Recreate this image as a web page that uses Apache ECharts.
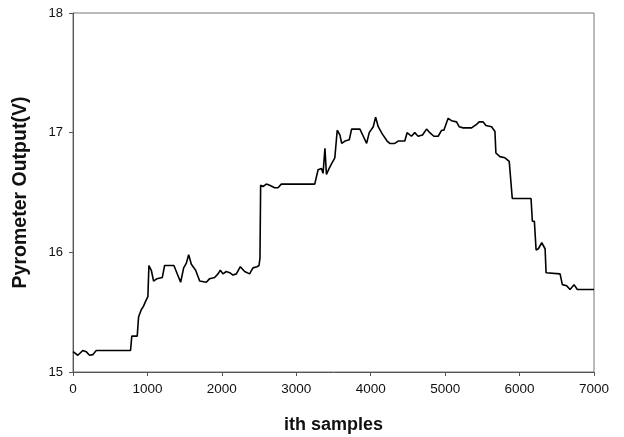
<!DOCTYPE html>
<html>
<head>
<meta charset="utf-8">
<script src="https://cdn.jsdelivr.net/npm/echarts@6/dist/echarts.min.js"></script>
<style>html,body{margin:0;padding:0;background:#fff}#c{width:624px;height:437px}</style>
</head>
<body>
<div id="c"></div>
<script>
const sampleIdx = [0, 65, 132, 177, 222, 266, 312, 773, 790, 863, 881, 917, 948, 975, 1006, 1020, 1052, 1083, 1128, 1200, 1231, 1356, 1388, 1446, 1487, 1523, 1554, 1590, 1648, 1702, 1791, 1836, 1903, 1948, 1980, 2015, 2060, 2105, 2150, 2195, 2248, 2306, 2373, 2418, 2472, 2499, 2512, 2521, 2553, 2598, 2642, 2709, 2754, 2799, 3248, 3270, 3293, 3338, 3360, 3385, 3405, 3440, 3473, 3518, 3550, 3587, 3610, 3654, 3712, 3743, 3855, 3900, 3945, 3980, 4034, 4066, 4101, 4155, 4220, 4256, 4323, 4368, 4458, 4489, 4547, 4592, 4637, 4696, 4750, 4794, 4848, 4906, 4952, 4983, 5040, 5085, 5153, 5188, 5242, 5355, 5422, 5457, 5511, 5548, 5624, 5669, 5682, 5736, 5803, 5861, 5884, 5902, 6154, 6172, 6199, 6222, 6253, 6298, 6343, 6356, 6544, 6575, 6634, 6678, 6732, 6776, 6835, 7000];
const output = [15.17, 15.14, 15.18, 15.17, 15.14, 15.145, 15.18, 15.18, 15.30, 15.30, 15.46, 15.52, 15.55, 15.59, 15.63, 15.89, 15.85, 15.76, 15.78, 15.79, 15.89, 15.89, 15.84, 15.75, 15.87, 15.91, 15.98, 15.90, 15.85, 15.76, 15.75, 15.78, 15.79, 15.82, 15.85, 15.82, 15.84, 15.83, 15.81, 15.82, 15.88, 15.84, 15.82, 15.87, 15.88, 15.89, 15.95, 16.56, 16.55, 16.57, 16.56, 16.54, 16.54, 16.57, 16.57, 16.56, 16.69, 16.70, 16.66, 16.87, 16.65, 16.70, 16.74, 16.79, 17.02, 16.98, 16.91, 16.93, 16.94, 17.03, 17.03, 16.97, 16.91, 17.00, 17.05, 17.13, 17.05, 16.99, 16.93, 16.91, 16.91, 16.93, 16.93, 17.00, 16.97, 17.00, 16.97, 16.98, 17.03, 17.00, 16.97, 16.97, 17.02, 17.02, 17.12, 17.10, 17.09, 17.05, 17.04, 17.04, 17.07, 17.09, 17.09, 17.06, 17.05, 17.01, 16.83, 16.80, 16.79, 16.76, 16.76, 16.45, 16.45, 16.26, 16.26, 16.02, 16.03, 16.08, 16.03, 15.83, 15.82, 15.73, 15.72, 15.69, 15.73, 15.69, 15.69, 15.69];
const xTitle = 'ith samples';
const yTitle = 'Pyrometer Output(V)';

const chart = echarts.init(document.getElementById('c'), null, {renderer: 'canvas'});
const font = '"Liberation Sans", Arial, sans-serif';
chart.setOption({
  animation: false,
  backgroundColor: '#fff',
  grid: {left: 73, right: 30, top: 13, bottom: 65, outerBoundsMode: 'none', containLabel: false, show: true, borderColor: '#777', borderWidth: 1},
  xAxis: {
    type: 'value', min: 0, max: 7000, interval: 1000,
    name: xTitle, nameLocation: 'middle', nameGap: 44,
    nameTextStyle: {fontFamily: font, fontSize: 18, fontWeight: 'bold', color: '#111'},
    axisLine: {show: true, lineStyle: {color: '#555', width: 1}},
    axisTick: {show: true, length: 4, lineStyle: {color: '#555'}},
    axisLabel: {fontFamily: font, fontSize: 13.5, color: '#111', margin: 10, formatter: v => String(v)},
    splitLine: {show: false}
  },
  yAxis: {
    type: 'value', min: 15, max: 18, interval: 1,
    name: yTitle, nameLocation: 'middle', nameGap: 42,
    nameTextStyle: {fontFamily: font, fontSize: 19.5, fontWeight: 'bold', color: '#111'},
    axisLine: {show: true, lineStyle: {color: '#555', width: 1}},
    axisTick: {show: true, length: 4, lineStyle: {color: '#555'}},
    axisLabel: {fontFamily: font, fontSize: 13, color: '#111', margin: 10},
    splitLine: {show: false}
  },
  series: [{
    type: 'line',
    data: sampleIdx.map((x, i) => [x, output[i]]),
    showSymbol: false, symbol: 'none',
    lineStyle: {color: '#000', width: 1.6},
    clip: true
  }]
});
</script>
</body>
</html>
